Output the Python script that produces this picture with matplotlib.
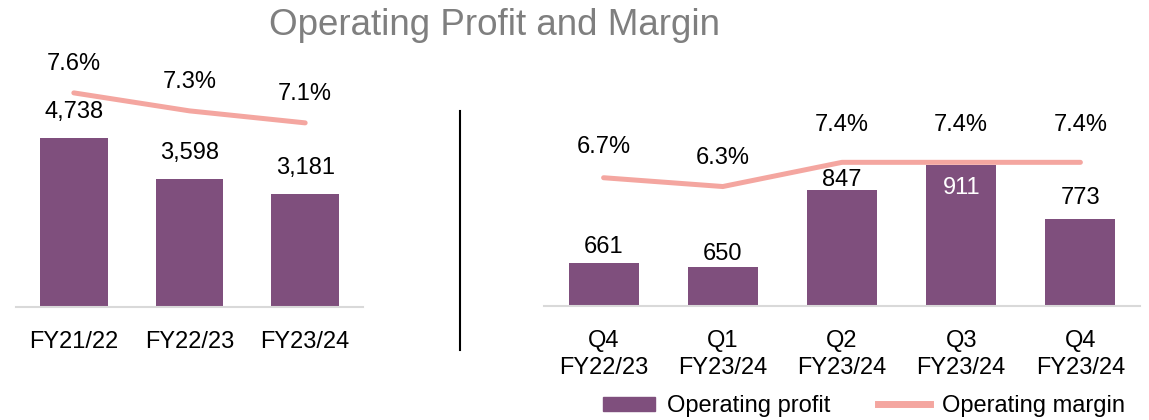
import matplotlib
matplotlib.use("Agg")
import matplotlib.pyplot as plt
from matplotlib.patches import Patch
from matplotlib.lines import Line2D

plt.rcParams['font.family'] = ['Liberation Sans', 'DejaVu Sans']

# annual data
years = ["FY21/22", "FY22/23", "FY23/24"]
year_profit = [4738, 3598, 3181]
year_margin = [7.6, 7.3, 7.1]

# quarterly data
quarters = ["Q4\nFY22/23", "Q1\nFY23/24", "Q2\nFY23/24", "Q3\nFY23/24", "Q4\nFY23/24"]
q_profit = [661, 650, 847, 911, 773]
q_margin = [6.7, 6.3, 7.4, 7.4, 7.4]

BAR = "#7F4F7D"
LINE = "#F4A6A0"
W, H = 1149, 420
FS = 17
PX = 0.72  # points per pixel at dpi 100

fig = plt.figure(figsize=(W / 100, H / 100), dpi=100)


def px_axes(x0, x1, ytop, ybot):
    return fig.add_axes([x0 / W, 1 - ybot / H, (x1 - x0) / W, (ybot - ytop) / H])


def style(ax):
    for s in ["top", "left", "right"]:
        ax.spines[s].set_visible(False)
    ax.spines["bottom"].set_color("#D9D9D9")
    ax.spines["bottom"].set_linewidth(1.5)
    ax.set_yticks([])
    ax.tick_params(axis="x", length=0, labelsize=FS, pad=17.5)


# ---- left: annual
ax1 = px_axes(16, 363, 39.5, 307)
x = range(len(years))
ax1.bar(x, year_profit, width=0.586, color=BAR, zorder=2)
ax1.set_xlim(-0.5, 2.5)
ax1.set_ylim(0, 7500)
ax1.set_xticks(list(x))
ax1.set_xticklabels(years)
style(ax1)
for i, v in enumerate(year_profit):
    ax1.annotate(f"{v:,}", (i, v), xytext=(0, 26 * PX), textcoords="offset points",
                 ha="center", va="center", fontsize=FS)

ax1b = ax1.twinx()
ax1b.plot(list(x), year_margin, color=LINE, lw=3.6, solid_capstyle="round", zorder=3)
ax1b.set_ylim(4.03, 8.49)
ax1b.axis("off")
for i, v in enumerate(year_margin):
    ax1b.annotate(f"{v:.1f}%", (i, v), xytext=(0, 29 * PX), textcoords="offset points",
                  ha="center", va="center", fontsize=FS)

# ---- right: quarterly
ax2 = px_axes(544, 1140, 40, 306)
xq = range(len(quarters))
ax2.bar(xq, q_profit, width=0.587, color=BAR, zorder=2)
ax2.set_xlim(-0.5, 4.5)
ax2.set_ylim(551, 1230)
ax2.set_xticks(list(xq))
ax2.set_xticklabels(quarters, linespacing=1.25)
style(ax2)
q_lab_off = [16, 13, 10, -23, 21]
for i, v in enumerate(q_profit):
    col = "white" if q_lab_off[i] < 0 else "black"
    ax2.annotate(f"{v:,}", (i, v), xytext=(0, q_lab_off[i] * PX), textcoords="offset points",
                 ha="center", va="center", fontsize=FS, color=col, zorder=5)

ax2b = ax2.twinx()
ax2b.plot(list(xq), q_margin, color=LINE, lw=3.6, solid_capstyle="round", zorder=3)
ax2b.set_ylim(0.87, 12.96)
ax2b.axis("off")
q_pct_off = [31, 29, 37, 37, 37]
for i, v in enumerate(q_margin):
    ax2b.annotate(f"{v:.1f}%", (i, v), xytext=(0, q_pct_off[i] * PX), textcoords="offset points",
                  ha="center", va="center", fontsize=FS)
ax2.set_zorder(1)
ax2b.set_zorder(0)
ax2.patch.set_visible(False)

# divider
fig.add_artist(Line2D([460 / W, 460 / W], [1 - 111 / H, 1 - 350 / H], color="black", lw=1.5))

fig.text(494.5 / W, 1 - 35 / H, "Operating Profit and Margin", ha="center", va="baseline",
         fontsize=26.5, color="#7F7F7F")

handles = [Patch(color=BAR, label="Operating profit"),
           Line2D([], [], color=LINE, lw=5, label="Operating margin")]
fig.legend(handles=handles, loc="center", bbox_to_anchor=(864 / W, 1 - 406 / H), ncol=2,
           frameon=False, fontsize=FS, handlelength=2.2, handleheight=0.55,
           handletextpad=0.5, columnspacing=2.0)

fig.savefig("out.png", dpi=100)
